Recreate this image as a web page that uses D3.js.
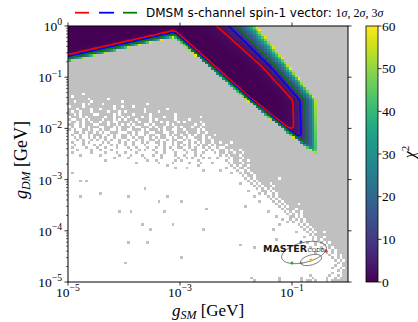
<!DOCTYPE html>
<html>
<head>
<meta charset="utf-8">
<script src="https://cdn.jsdelivr.net/npm/d3@7"></script>
<style>
  html, body { margin: 0; padding: 0; background: #ffffff; }
  svg { display: block; }
  .serif { font-family: "Liberation Serif", "DejaVu Serif", serif; }
  .sans { font-family: "DejaVu Sans", sans-serif; }
</style>
</head>
<body>
<svg id="chart" width="418" height="322"></svg>
<script>
// ---- scan ranges (log10 of coupling) and binning ----
const gSMRange = [-5, 0];
const gDMRange = [-5, 0];
const nBins = 100;

// ---- tick values ----
const xTickExps = [-5, -3, -1];
const yTickExps = [-5, -4, -3, -2, -1, 0];
const chi2Ticks = [0, 10, 20, 30, 40, 50, 60];
const chi2Max = 60;

// ---- confidence levels (Δχ² for 2 d.o.f.) ----
const sigmaLabels = ["1σ", "2σ", "3σ"];
const sigmaLevels = [2.30, 6.18, 11.83];
const sigmaColors = ["#ff0000", "#0000ff", "#008000"];

// ---- χ² = 60 boundary below the allowed band: [log gSM, log gDM] ----
const lowerEdge = [[-5.2, -0.75], [-5, -0.70], [-3.1, -0.22], [-1.75, -1.50], [-0.55, -2.55], [0.2, -3.2]];
// fall-off length of χ² inside that boundary (decades of gDM): [log gSM, width]
const lowerWidth = [[-5.2, 0.043], [-3.1, 0.040], [-1.75, 0.030], [0.2, 0.030]];

// ---- χ² = 60 boundary on the large-coupling side: [log gDM, log gSM] ----
const upperEdge = [[0.2, -1.78], [0, -1.63], [-1.45, -0.56], [-2.6, -0.52], [-5.2, -0.45]];
// fall-off length inside that boundary (decades of gSM): [log gDM, width]
const upperWidth = [[0.2, 0.23], [0, 0.22], [-0.8, 0.15], [-1.5, 0.13], [-5.2, 0.14]];

// ---- sampled bins below gDM = 10^-1.2, one string per bin row (top to bottom),
//      ten blocks of ten gSM bins; '#' sampled, '.' empty, a one-char block fills all ten ----
const firstScanRow = 24;
const scanRows = [
  "#|#|#|#|#|#|#|#|#|#",
  "#|#|#|#|#|#|#|#|#|#",
  "#####.####|#|#|#|#|#|#|#|#|#",
  "#.########|#|#|#|#|#|#|#|#|#",
  "#######.##|####.#####|#|#|#|#|#|#|#|#",
  "##.#####.#|#########.|#|#|#|#|#|#|#|#",
  "#####.#.##|##.#######|########.#|#|#|#|#|#|#|#",
  ".####.####|######.##.|###.######|#|#|#|#|#|#|#",
  "###.####.#|#.####.###|#######.##|#####.####|#|#|#|#|#|#",
  "#.##.###.#|####.###.#|.######.##|##.#######|#|#|#|#|#|#",
  "##.#.####.|.#####.#.#|###.#####.|########.#|#|#|#|#|#|#",
  ".###.#.###|###.##.##.|#.####.##.|####.###.#|#######.##|#|#|#|#|#",
  "#..##.#.##|##.###.#.#|.###.####.|#.######.#|###.######|#|#|#|#|#",
  ".##.#.##.#|#.##.#..##|##.##.###.|###.#.###.|#.#####.##|#|#|#|#|#",
  "##..#.###.|.###.##.#.|#.#.###..#|.####.#.##|#####.##.#|#|#|#|#|#",
  ".#..#.#.##|#..###.#.#|##.#..###.|#.##.###.#|.###.##.##|#|#|#|#|#",
  "#.#..##.#.|.#.##..#.#|#..###.#.#|##.#.##..#|#.####.#.#|#|#|#|#|#",
  "..##.#.##.|#.#..###..|.##.#..##.|.###..##.#|##.###.##.|#|#|#|#|#",
  ".#..#..#.#|##..#.#..#|#.#.#..#.#|#..##.#.##|.##.#.##.#|##.#######|#|#|#|#",
  "..#.#..#.#|.#.#..#..#|#..#.##..#|.#.##..#.#|#.#..###.#|.#########|#|#|#|#",
  "...#.#..#.|#..#.#..#.|.#..#.#..#|#.#..#.##.|.#.#..##.#|#.########|#|#|#|#",
  ".#...#.#..|..#.#...#.|#..#..#.#.|.##.#..#.#|#..#.#.#.#|#.##.###.#|#|#|#|#",
  "..#..#...#|.#...#.#..|#..#...#..|..#.#..#.#|.#.#..#.##|.#.###.###|#|#|#|#",
  ".#....#...|#..#...#..|.#..#...#.|.#..#.#..#|#..#.#..#.|#..#..####|#|#|#|#",
  "...#....#.|.#...#....|..#..#.#..|#...#..#..|.#..##...#|.#..##.#.#|#.########|#|#|#",
  ".#......#.|...#...#..|#...#.....|.#..#...#.|..#..#..#.|..#.##.##.|##.#######|#|#|#",
  "....#.....|.#......#.|..#...#...|#..#....#.|.#...#.#..|....#.#.##|#.########|#|#|#",
  ".|......#...|.#.....#..|...#.....#|..#.#...#.|#..#...#.#|##.#######|#|#|#",
  ".|...#......|........#.|.#......#.|#.....#...|......#..#|#.##.#####|#|#|#",
  ".|.|....#.....|..#....#..|...#...#..|.#.....#.#|##.#######|#|#|#",
  ".|.|.|.....#....|......#...|........#.|#.##.#####|#|#|#",
  ".|.|.|........#.|..#.......|......#..#|.##.######|#|#|#",
  ".|.|.|.|........#.|....#.....|#..#.#####|#|#|#",
  ".#........|.|.|.|.|........#.|.#.##.####|#|#|#",
  ".|.|.|.|.|.|..#.##.###|#|#|#",
  ".|.|.|.|.|.|...#.#.###|#####.####|#|#",
  "....#.#...|.|.|.|.|.|....#.#.##|#|#|#",
  ".|.|.|.|.|.|.#...#.#.#|##.#######|#|#",
  ".|.|.|.|.|.|......#.#.|###.######|#|#",
  ".|.|.......#..|.|.|.|.......#.#|.#.#######|#|#",
  ".|.|.|.|.|.|....#....#|#.#.######|#|#",
  ".|.#........|.|.|.|.|........#.|#..#.#####|#|#",
  "....#.....|.|.#........|.....#....|.|.|......#...|.#.#.#####|#|#",
  ".|.|.|.|.|.|.|..#.#.####|#|#",
  ".|.|.|..#.......|#.........|.|........#.|...#.#.###|#|#",
  ".|.|.|.|.|.|.|....#.#.##|##.#######|#",
  ".|.|.|.|.|.|...#......|.....#.#.#|#|#",
  ".|.|.|.|.........#|.|.|......#.##|#.########|#",
  ".|........#.|..#.......|....#.....|.|.|.|.#.....#.#|.##.######|#",
  ".|.|.|.|.|.|.|........#.|#.#.######|#",
  ".|.|.|.|.|.|.|....#....#|#.#.######|#",
  ".|.|.|.|.|.|.|......#..#|.#.#.#####|#",
  ".|.|.|.|.|.|.|........#.|#..#.#####|#",
  ".|.|......#...|.......#..|.|.|.|.....#....|..#.#.####|#",
  ".|.|.|.|.|.|.|.|...#.#.###|#",
  ".|.|.........#|.|........#.|.|.|...#......|....#.#.##|#",
  ".|.|.|.|.|.|.|.|.#...#.#.#|#.########",
  ".|.|.|.|.|.|.|.|......#.##|#",
  ".|.|.|.|.|.|.|.|....#..#.#|#.########",
  ".|.|.|.|.|.|.|....#.....|.......#.#|.#########",
  ".|.|.#......#.|.|.|.|.|.|.....#..#.|#.#.######",
  ".|.|.|.|.|.|.#........|.|........#.|.#.#######",
  ".|.|.|.|.|.|......#...|.|......#...|#..#.#####",
  ".|.|.|.|.|.|.|.|.|.#..#.####",
  ".|.|.|.|.|.|.|.|........#.|..#.#.####",
  ".|.|.|.|.|.|.|.|.|...#..#.##",
  ".|.|.|.|#.........|.|.|.|.|....#.#.##",
  ".|.|.|.|.|.|.|.|.|.....#.#.#",
  ".|.|#.........|.|.|.|.|.|...#......|......#.##",
  ".|.|.|.|.|.|.|.|.|.....#..##",
  ".|.|.|.|.|.|.|.|.|....#..#.#",
  ".|.|.|.|.|.|.|.|.|......#.##",
  ".|.|.|.|.|.|.|.|.|....#...##",
  ".|.|.|.|.|.|.|.|......#...|...#..#.##",
  ".|.|.|.|.|.|.....#....|.....#....|...#...#..|..#..#.###",
  ".|.|.|.|.|.|......#...|.....#....|...#.##.#.|..#.######"
];

// ---------------------------------------------------------------
const svg = d3.select("#chart");
const frame = { left: 68, right: 348, top: 26, bottom: 282 };

const x = d3.scaleLog().domain([10 ** gSMRange[0], 10 ** gSMRange[1]]).range([frame.left, frame.right]);
const y = d3.scaleLog().domain([10 ** gDMRange[0], 10 ** gDMRange[1]]).range([frame.bottom, frame.top]);
const color = d3.scaleSequential(d3.interpolateViridis).domain([0, chi2Max]);

const sortKnots = k => k.slice().sort((a, b) => a[0] - b[0]);
const interp = knots => {
  const k = sortKnots(knots);
  return d3.scaleLinear().domain(k.map(p => p[0])).range(k.map(p => p[1])).clamp(true);
};
const vLow = interp(lowerEdge);
const wLow = interp(lowerWidth);
const uHigh = interp(upperEdge);
const wHigh = interp(upperWidth);

function chi2(u, v) {
  const a = (v - vLow(u)) / wLow(u);
  const b = (uHigh(v) - u) / wHigh(v);
  return chi2Max * Math.exp(-a) + chi2Max * Math.exp(-b);
}

const du = (gSMRange[1] - gSMRange[0]) / nBins;
const dv = (gDMRange[1] - gDMRange[0]) / nBins;

// expand the row strings into a sampled-bin mask (row index from the top)
const mask = scanRows.map(row => row.split("|").map(b => b.length === 1 ? b.repeat(10) : b.padEnd(10, b[b.length - 1]).slice(0, 10)).join(""));
const isSampled = (i, r) => r < firstScanRow ? true : (mask[r - firstScanRow] || "")[i] === "#";

// ---- cells ----
const cells = [];
for (let i = 0; i < nBins; i++) {
  for (let r = 0; r < nBins; r++) {
    if (!isSampled(i, r)) continue;
    const u0 = gSMRange[0] + i * du;
    const v1 = gDMRange[1] - r * dv;
    const c = chi2(u0 + du / 2, v1 - dv / 2);
    cells.push({ u0, v1, c });
  }
}

svg.append("g").selectAll("rect").data(cells).join("rect")
  .attr("x", d => x(10 ** d.u0))
  .attr("y", d => y(10 ** d.v1))
  .attr("width", d => x(10 ** (d.u0 + du)) - x(10 ** d.u0))
  .attr("height", d => y(10 ** (d.v1 - dv)) - y(10 ** d.v1))
  .attr("fill", d => d.c <= chi2Max ? color(d.c) : "#c0c0c0")
  .attr("shape-rendering", "crispEdges");

// ---- contour lines from an extended grid, clipped to the frame ----
const pad = 4;
const nG = nBins + 2 * pad;
const grid = new Array(nG * nG);
for (let j = 0; j < nG; j++) {
  for (let i = 0; i < nG; i++) {
    grid[j * nG + i] = chi2(gSMRange[0] + (i - pad + 0.5) * du, gDMRange[1] - (j - pad + 0.5) * dv);
  }
}
const contours = d3.contours().size([nG, nG]).thresholds(sigmaLevels)(grid);
const proj = ([gi, gj]) => [x(10 ** (gSMRange[0] + (gi - pad) * du)), y(10 ** (gDMRange[1] - (gj - pad) * dv))];
const line = d3.line();

svg.append("clipPath").attr("id", "frame-clip").append("rect")
  .attr("x", frame.left).attr("y", frame.top)
  .attr("width", frame.right - frame.left).attr("height", frame.bottom - frame.top);

const cg = svg.append("g").attr("clip-path", "url(#frame-clip)");
contours.forEach((c, k) => {
  const d = c.coordinates.map(poly => poly.map(ring => line(ring.map(proj)) + "Z").join("")).join("");
  cg.append("path").attr("d", d).attr("fill", "none")
    .attr("stroke", sigmaColors[k]).attr("stroke-width", 1.6).attr("stroke-linejoin", "round");
});

// ---- MasterCode mark ----
const logo = svg.append("g");
logo.append("ellipse").attr("cx", 304).attr("cy", 252.5).attr("rx", 23).attr("ry", 10)
  .attr("transform", "rotate(-14,304,252.5)").attr("fill", "none").attr("stroke", "#555").attr("stroke-width", 0.7);
logo.append("ellipse").attr("cx", 311).attr("cy", 260).attr("rx", 11).attr("ry", 5)
  .attr("transform", "rotate(-16,311,260)").attr("fill", "none").attr("stroke", "#555").attr("stroke-width", 0.7);
logo.append("text").attr("x", 263).attr("y", 252).attr("font-family", "DejaVu Sans").attr("font-weight", "bold")
  .attr("font-size", 9).attr("textLength", 44).attr("lengthAdjust", "spacingAndGlyphs").attr("fill", "#1a1a1a").text("MASTER");
logo.append("text").attr("x", 307.5).attr("y", 252).attr("font-family", "DejaVu Sans")
  .attr("font-size", 5.5).attr("textLength", 17).attr("lengthAdjust", "spacingAndGlyphs").attr("fill", "#1a1a1a").text("CODE");
[[301, 242, "#2a5caa"], [326, 251, "#d62728"], [292, 263, "#3a9a3a"], [311, 260, "#e8b800"]].forEach(p => {
  logo.append("circle").attr("cx", p[0]).attr("cy", p[1]).attr("r", 1.5).attr("fill", p[2]);
});

// ---- frame ----
svg.append("rect").attr("x", frame.left).attr("y", frame.top)
  .attr("width", frame.right - frame.left).attr("height", frame.bottom - frame.top)
  .attr("fill", "none").attr("stroke", "#000").attr("stroke-width", 1);

// ---- ticks ----
const tickFS = 13.5;
const supLabel = (sel, exp, fs) => {
  sel.append("tspan").text("10");
  sel.append("tspan").attr("dy", -fs * 0.42).attr("font-size", fs * 0.72).text(exp < 0 ? "\u2212" + (-exp) : String(exp));
};

const yMinor = [];
for (let e = gDMRange[0]; e < gDMRange[1]; e++) for (let m = 2; m <= 9; m++) yMinor.push(m * 10 ** e);

const ticks = svg.append("g").attr("stroke", "#000").attr("stroke-width", 0.8);
yTickExps.forEach(e => {
  const yy = y(10 ** e);
  ticks.append("line").attr("x1", frame.left - 3.5).attr("x2", frame.left).attr("y1", yy).attr("y2", yy);
  ticks.append("line").attr("x1", frame.right).attr("x2", frame.right + 3.5).attr("y1", yy).attr("y2", yy);
});
yMinor.forEach(vv => {
  const yy = y(vv);
  ticks.append("line").attr("x1", frame.left - 2).attr("x2", frame.left).attr("y1", yy).attr("y2", yy).attr("stroke-width", 0.6);
});
xTickExps.forEach(e => {
  const xx = x(10 ** e);
  ticks.append("line").attr("x1", xx).attr("x2", xx).attr("y1", frame.bottom).attr("y2", frame.bottom + 3.5);
  ticks.append("line").attr("x1", xx).attr("x2", xx).attr("y1", frame.top - 3.5).attr("y2", frame.top);
});

xTickExps.forEach(e => {
  const t = svg.append("text").attr("class", "serif").attr("font-size", tickFS)
    .attr("x", x(10 ** e)).attr("y", 297).attr("text-anchor", "middle");
  supLabel(t, e, tickFS);
});
yTickExps.forEach(e => {
  const t = svg.append("text").attr("class", "serif").attr("font-size", tickFS)
    .attr("x", 62).attr("y", y(10 ** e) + 5).attr("text-anchor", "end");
  supLabel(t, e, tickFS);
});

// ---- axis titles ----
const axisTitle = (sel, sub) => {
  sel.append("tspan").attr("font-style", "italic").text("g");
  sel.append("tspan").attr("font-style", "italic").attr("font-size", 12).attr("dy", 3).text(sub);
  sel.append("tspan").attr("dy", -3).text(" [GeV]");
};
axisTitle(svg.append("text").attr("class", "serif").attr("font-size", 17)
  .attr("x", 208).attr("y", 316).attr("text-anchor", "middle"), "SM");
axisTitle(svg.append("text").attr("class", "serif").attr("font-size", 18)
  .attr("transform", "translate(27,160) rotate(-90)").attr("text-anchor", "middle"), "DM");

// ---- colour bar ----
const cb = { x0: 366, x1: 378, top: 26, bottom: 282 };
const cbScale = d3.scaleLinear().domain([0, chi2Max]).range([cb.bottom, cb.top]);
const grad = svg.append("defs").append("linearGradient").attr("id", "viridis-bar")
  .attr("x1", 0).attr("x2", 0).attr("y1", 1).attr("y2", 0);
d3.range(0, 1.0001, 0.05).forEach(t => grad.append("stop").attr("offset", t).attr("stop-color", d3.interpolateViridis(t)));
svg.append("rect").attr("x", cb.x0).attr("y", cb.top).attr("width", cb.x1 - cb.x0).attr("height", cb.bottom - cb.top)
  .attr("fill", "url(#viridis-bar)").attr("stroke", "#000").attr("stroke-width", 0.8);
chi2Ticks.forEach(t => {
  svg.append("line").attr("x1", cb.x1).attr("x2", cb.x1 + 3.5).attr("y1", cbScale(t)).attr("y2", cbScale(t))
    .attr("stroke", "#000").attr("stroke-width", 0.8);
  svg.append("text").attr("class", "serif").attr("font-size", tickFS)
    .attr("x", cb.x1 + 4).attr("y", cbScale(t) + 4.5).text(t);
});
const cbt = svg.append("text").attr("class", "serif").attr("font-size", 16)
  .attr("transform", "translate(415,152) rotate(-90)").attr("text-anchor", "middle");
cbt.append("tspan").attr("font-style", "italic").text("χ");
cbt.append("tspan").attr("font-size", 11).attr("dy", -6).text("2");

// ---- legend ----
const legend = svg.append("g");
[[75, 89], [99, 114], [123, 137]].forEach((seg, k) => {
  legend.append("line").attr("x1", seg[0]).attr("x2", seg[1]).attr("y1", 12.7).attr("y2", 12.7)
    .attr("stroke", sigmaColors[k]).attr("stroke-width", 1.8);
});
const lt = legend.append("text").attr("x", 146).attr("y", 17).attr("font-size", 12);
lt.append("tspan").attr("class", "sans").text("DMSM s-channel spin-1 vector: ");
sigmaLabels.forEach((s, k) => {
  lt.append("tspan").attr("class", "serif").text(s[0]);
  lt.append("tspan").attr("class", "serif").attr("font-style", "italic").text(s.slice(1));
  if (k < sigmaLabels.length - 1) lt.append("tspan").attr("class", "serif").text(", ");
});
</script>
</body>
</html>
